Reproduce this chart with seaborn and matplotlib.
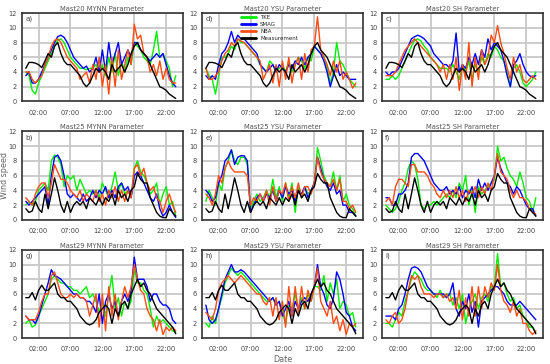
import numpy as np
import pandas as pd
import matplotlib
matplotlib.use("Agg")
import matplotlib.pyplot as plt
import seaborn as sns

# half-hourly time axis (hours of the day)
hours = [h * 0.5 for h in range(48)]
tick_hours = [2, 7, 12, 17, 22]
tick_labels = ["02:00", "07:00", "12:00", "17:00", "22:00"]
series_names = ["TKE", "SMAG", "NBA", "Measurement"]

# Measurements (shared within each mast row)
meas_m20 = [4.5, 5.3, 5.3, 5.2, 5.0, 4.6, 5.5, 6.5, 6.0, 7.5, 8.0, 6.5, 5.5, 5.0, 5.0, 4.5,
            4.0, 3.5, 2.5, 2.0, 2.5, 3.5, 4.5, 4.0, 4.5, 4.0, 3.0, 5.0, 4.0, 4.5, 5.0, 4.0,
            5.0, 6.5, 7.5, 8.0, 7.0, 6.5, 6.0, 5.0, 4.0, 3.0, 2.0, 1.8, 1.5, 1.0, 0.7, 0.4]
meas_m25 = [1.5, 1.0, 1.2, 2.5, 1.5, 1.0, 3.5, 1.5, 3.5, 5.7, 4.0, 2.0, 1.0, 2.5, 1.0, 2.0,
            2.5, 2.0, 2.5, 1.5, 3.0, 2.5, 2.0, 3.0, 2.0, 3.0, 2.5, 3.5, 2.0, 4.0, 3.0, 3.5,
            2.5, 4.0, 4.5, 6.3, 5.5, 5.0, 5.0, 3.0, 2.0, 1.0, 0.5, 0.3, 0.3, 1.5, 1.0, 0.5]
meas_m29 = [5.5, 5.5, 6.2, 5.2, 6.5, 7.2, 6.5, 6.5, 7.0, 7.5, 6.0, 5.5, 5.5, 5.0, 5.0, 4.5,
            4.0, 3.0, 2.5, 2.0, 1.8, 2.0, 2.5, 3.5, 4.0, 4.5, 4.0, 2.0, 4.0, 3.0, 4.5, 5.0,
            4.0, 6.0, 7.0, 8.0, 7.0, 7.5, 6.5, 6.0, 5.0, 4.0, 3.5, 3.0, 2.5, 2.0, 1.5, 0.6]

# Mast20 MYNN (a)
a_tke = [4.0, 3.5, 1.5, 1.0, 2.5, 3.5, 4.5, 5.5, 6.5, 7.5, 8.3, 8.5, 8.0, 7.0, 6.0, 5.5,
         5.0, 4.5, 4.5, 4.3, 4.5, 4.5, 5.0, 4.0, 5.0, 3.5, 6.0, 4.0, 6.5, 3.5, 5.5, 4.0,
         6.0, 5.0, 8.0, 7.5, 7.0, 6.0, 5.5, 5.0, 7.0, 9.5, 6.0, 6.5, 5.5, 4.5, 2.0, 3.5]
a_smag = [3.5, 4.0, 2.5, 2.5, 3.0, 4.0, 5.0, 6.0, 7.0, 8.0, 8.8, 9.0, 8.7, 8.0, 7.0, 6.0,
          5.5, 5.0, 4.5, 4.8, 4.0, 4.5, 6.0, 4.0, 7.0, 4.0, 8.0, 5.0, 6.5, 8.0, 5.0, 6.0,
          7.0, 6.0, 8.0, 8.0, 7.0, 6.5, 6.0, 5.5, 6.0, 6.5, 6.0, 6.5, 5.0, 3.5, 2.5, 2.0]
a_nba = [4.0, 4.0, 3.0, 2.5, 3.0, 3.5, 5.0, 6.0, 7.5, 8.3, 8.5, 8.0, 7.0, 6.0, 5.5, 5.0,
         4.5, 3.0, 3.5, 4.0, 2.5, 5.0, 3.0, 6.0, 2.0, 5.0, 1.0, 6.0, 2.0, 7.0, 3.0, 5.0,
         7.0, 5.0, 10.5, 8.5, 9.0, 6.5, 6.0, 4.0, 5.0, 3.5, 5.5, 3.0, 4.5, 3.0, 2.5, 2.5]

# Mast20 YSU (d)
d_tke = [4.5, 3.5, 3.0, 1.0, 3.5, 6.0, 6.0, 6.5, 7.5, 7.0, 8.5, 8.0, 8.0, 7.5, 7.0, 6.5,
         6.0, 5.0, 4.5, 4.0, 5.5, 5.0, 4.0, 4.5, 5.0, 4.0, 5.5, 4.0, 5.0, 6.0, 5.5, 4.5,
         6.0, 5.5, 7.5, 7.0, 6.5, 6.0, 4.5, 2.5, 4.0, 8.0, 5.5, 5.0, 4.0, 3.0, 2.5, 2.0]
d_smag = [3.5, 3.0, 3.5, 3.0, 5.0, 6.5, 7.0, 8.0, 9.5, 8.0, 9.0, 8.5, 8.5, 8.0, 7.5, 7.0,
          6.5, 5.0, 4.5, 4.0, 4.5, 5.0, 4.0, 5.0, 4.5, 4.0, 5.0, 4.5, 5.5, 5.0, 6.0, 5.0,
          6.0, 6.5, 7.5, 7.0, 6.5, 5.5, 4.0, 2.0, 3.5, 5.0, 3.5, 4.0, 3.5, 3.0, 3.0, 3.0]
d_nba = [4.5, 3.0, 3.0, 3.5, 4.0, 5.5, 6.5, 7.0, 8.0, 7.5, 8.5, 8.2, 8.0, 7.5, 7.0, 6.5,
         6.0, 5.5, 3.0, 4.0, 5.0, 2.5, 5.0, 2.0, 5.5, 3.0, 6.0, 2.5, 5.0, 6.0, 3.0, 6.5,
         4.0, 7.0, 7.5, 11.5, 7.0, 6.0, 5.0, 3.5, 5.5, 4.0, 5.5, 3.0, 4.0, 3.0, 1.8, 2.5]

# Mast20 SH (c)
c_tke = [3.0, 3.0, 3.5, 3.0, 3.5, 4.5, 5.5, 6.5, 7.5, 8.3, 8.5, 8.2, 7.5, 7.0, 6.0, 5.5,
         5.0, 4.5, 4.5, 4.5, 4.0, 5.0, 4.0, 3.0, 5.0, 4.0, 5.5, 3.0, 5.0, 4.0, 6.0, 5.0,
         6.5, 6.0, 7.5, 7.0, 6.0, 5.5, 4.0, 2.0, 4.5, 5.0, 4.0, 2.5, 2.0, 2.5, 3.0, 4.0]
c_smag = [4.0, 3.5, 4.0, 4.0, 4.5, 5.5, 6.5, 7.5, 8.5, 8.8, 9.0, 8.8, 8.5, 8.0, 7.5, 6.5,
          6.0, 5.5, 5.0, 5.0, 4.5, 5.5, 9.3, 4.0, 5.0, 4.5, 6.0, 5.0, 6.5, 5.0, 7.0, 6.0,
          8.5, 7.0, 8.0, 7.5, 7.0, 5.5, 3.5, 2.0, 5.0, 5.5, 6.5, 5.0, 4.0, 3.5, 3.3, 3.5]
c_nba = [3.5, 3.5, 3.5, 4.0, 5.0, 6.0, 7.0, 7.5, 8.0, 8.5, 8.0, 7.5, 7.0, 6.5, 6.0, 5.5,
         5.0, 4.0, 5.0, 3.0, 5.0, 3.0, 6.0, 1.5, 5.0, 3.0, 8.0, 2.0, 6.0, 3.0, 7.0, 5.0,
         6.0, 9.0, 8.0, 10.3, 8.0, 6.5, 4.5, 3.0, 6.0, 4.0, 5.0, 3.0, 2.5, 3.0, 3.5, 3.0]

# Mast25 MYNN (b)
b_tke = [2.0, 2.5, 2.0, 2.5, 4.0, 4.5, 5.0, 4.0, 8.0, 8.8, 8.5, 7.5, 4.5, 6.0, 5.5, 6.0,
         4.0, 5.5, 4.5, 3.5, 4.0, 3.5, 4.0, 3.0, 5.0, 4.0, 3.0, 4.5, 6.5, 4.0, 5.0, 3.5,
         4.0, 3.0, 7.0, 8.0, 6.5, 6.0, 5.0, 3.5, 4.0, 5.0, 2.0, 3.5, 4.5, 2.0, 2.5, 0.5]
b_smag = [2.5, 2.0, 2.5, 3.0, 3.5, 4.0, 4.5, 2.0, 6.0, 8.5, 8.8, 8.0, 6.0, 3.5, 3.0, 3.5,
          3.0, 2.5, 3.5, 2.5, 3.0, 4.0, 3.0, 4.0, 3.5, 4.5, 3.0, 4.0, 3.0, 4.5, 5.0, 4.0,
          4.5, 3.0, 6.0, 6.5, 6.0, 5.0, 4.0, 3.0, 2.5, 3.5, 1.5, 0.5, 1.0, 2.0, 1.0, 0.3]
b_nba = [3.0, 2.5, 2.0, 3.5, 4.5, 5.0, 5.0, 3.0, 5.0, 7.5, 6.5, 5.5, 5.5, 5.0, 4.0, 3.5,
         3.0, 4.0, 2.5, 3.5, 3.0, 2.5, 4.0, 2.5, 3.5, 2.0, 4.0, 3.0, 4.5, 2.5, 4.0, 2.5,
         4.0, 3.0, 7.0, 7.5, 6.0, 7.0, 5.0, 4.0, 4.5, 3.0, 2.5, 1.0, 2.5, 3.5, 2.0, 1.0]

# Mast25 YSU (e)
e_tke = [2.5, 4.0, 3.0, 2.0, 5.0, 4.0, 7.0, 8.0, 9.5, 8.0, 7.5, 8.5, 8.5, 7.5, 1.5, 2.5,
         3.5, 2.5, 3.0, 4.0, 3.0, 5.5, 3.0, 4.5, 2.5, 5.0, 3.0, 5.0, 1.0, 4.5, 3.0, 4.5,
         3.5, 4.0, 5.0, 9.8, 8.0, 6.0, 5.0, 4.5, 6.5, 4.0, 6.0, 2.5, 3.5, 2.0, 1.5, 0.5]
e_smag = [4.0, 3.5, 2.5, 3.0, 5.0, 6.0, 8.0, 8.5, 9.5, 7.5, 8.5, 8.7, 8.7, 8.0, 1.0, 2.0,
          3.0, 3.5, 2.5, 3.5, 3.0, 4.0, 2.5, 4.0, 3.0, 4.5, 3.5, 4.0, 2.5, 4.0, 3.5, 4.5,
          3.0, 4.0, 5.0, 8.5, 7.0, 5.5, 4.5, 4.0, 5.0, 3.5, 4.0, 2.0, 2.0, 1.0, 1.0, 0.5]
e_nba = [3.5, 3.0, 2.0, 3.5, 6.0, 5.0, 7.0, 8.0, 7.0, 6.5, 6.5, 6.5, 6.5, 6.0, 2.0, 3.0,
         2.5, 3.5, 2.5, 4.0, 2.0, 4.5, 2.5, 4.0, 3.5, 5.0, 2.5, 4.5, 3.0, 5.0, 3.0, 4.5,
         4.5, 3.5, 5.0, 8.5, 6.5, 5.5, 5.0, 4.5, 5.5, 4.0, 5.5, 2.5, 2.5, 1.5, 2.0, 1.0]

# Mast25 SH (f)
f_tke = [2.0, 1.5, 1.0, 1.5, 2.5, 4.0, 5.0, 7.0, 8.0, 7.5, 5.5, 2.0, 1.5, 2.0, 2.0, 2.5,
         2.0, 2.5, 3.0, 3.5, 3.0, 4.0, 3.0, 5.0, 4.0, 6.0, 2.0, 4.0, 1.0, 4.5, 3.5, 4.0,
         4.5, 5.0, 5.5, 10.0, 8.0, 8.5, 7.0, 6.0, 5.5, 4.5, 6.5, 5.0, 3.0, 2.5, 1.0, 3.0]
f_smag = [3.0, 3.0, 2.0, 2.0, 3.5, 3.5, 4.0, 5.0, 8.5, 9.0, 9.0, 8.5, 8.0, 7.0, 6.0, 5.0,
          4.5, 4.0, 4.0, 4.5, 3.5, 4.0, 3.5, 4.5, 3.0, 4.0, 3.5, 4.5, 3.0, 5.5, 4.0, 5.0,
          4.0, 5.0, 6.0, 8.5, 7.0, 6.0, 5.0, 4.5, 3.5, 4.5, 4.0, 3.0, 2.0, 1.5, 1.5, 0.5]
f_nba = [2.5, 3.0, 2.0, 4.5, 5.5, 5.5, 5.0, 4.5, 7.5, 7.5, 6.5, 6.5, 6.5, 6.0, 5.0, 4.5,
         3.5, 3.0, 4.0, 3.0, 4.0, 3.0, 4.5, 3.0, 4.0, 2.5, 4.0, 3.5, 4.5, 3.0, 4.5, 3.5,
         5.0, 4.0, 6.0, 9.0, 6.5, 6.0, 5.5, 4.0, 3.0, 4.0, 3.0, 3.0, 2.5, 1.5, 1.0, 0.8]

# Mast29 MYNN (g)
g_tke = [2.0, 2.5, 1.5, 1.8, 3.0, 4.0, 5.0, 6.0, 8.0, 8.5, 8.0, 7.5, 7.5, 7.0, 7.0, 6.5,
         6.5, 6.0, 6.5, 7.0, 5.5, 6.0, 5.0, 3.5, 5.0, 3.0, 6.0, 8.5, 4.0, 5.5, 3.0, 5.0,
         4.0, 5.0, 9.5, 7.5, 7.5, 6.5, 6.0, 4.0, 1.5, 3.0, 2.0, 2.5, 2.0, 1.5, 1.0, 0.8]
g_smag = [3.0, 2.5, 2.5, 2.0, 3.0, 4.5, 6.0, 7.5, 9.3, 8.5, 8.3, 8.0, 7.5, 7.0, 6.5, 6.0,
          6.0, 5.5, 5.5, 5.0, 5.0, 4.5, 3.5, 6.0, 2.0, 5.0, 6.0, 4.0, 5.0, 3.0, 5.0, 6.0,
          5.0, 6.5, 11.0, 8.0, 8.0, 8.0, 7.0, 5.0, 6.0, 6.0, 5.0, 4.5, 4.5, 4.0, 2.5, 2.0]
g_nba = [3.0, 2.5, 2.5, 2.5, 3.5, 5.0, 6.0, 6.0, 8.5, 9.0, 7.5, 6.0, 5.5, 5.5, 6.0, 5.5,
         6.0, 5.5, 5.5, 5.0, 3.0, 4.5, 6.0, 1.5, 6.0, 1.0, 7.0, 3.0, 6.0, 2.5, 5.0, 7.0,
         5.5, 7.0, 10.0, 8.0, 6.5, 6.0, 4.0, 3.0, 2.5, 1.0, 2.5, 0.5, 1.5, 1.0, 1.5, 1.0]

# Mast29 YSU (h)
h_tke = [2.0, 1.5, 3.0, 2.0, 4.0, 5.5, 7.5, 8.5, 9.5, 9.0, 8.5, 9.0, 8.5, 8.0, 7.5, 7.0,
         6.5, 6.0, 5.5, 5.0, 5.0, 5.5, 4.5, 5.0, 3.5, 2.0, 4.5, 4.0, 6.0, 4.0, 5.5, 4.0,
         6.0, 5.0, 7.0, 7.0, 6.5, 8.5, 5.0, 7.5, 6.0, 8.0, 4.0, 5.0, 4.5, 3.0, 3.5, 1.5]
h_smag = [4.5, 2.5, 2.0, 2.5, 4.0, 6.0, 8.0, 9.0, 10.0, 9.0, 9.0, 9.3, 9.0, 8.5, 8.0, 7.5,
          7.0, 6.5, 6.0, 5.5, 5.0, 5.5, 4.5, 5.0, 3.0, 4.0, 5.0, 3.0, 5.0, 4.0, 5.0, 5.5,
          5.0, 6.0, 7.0, 10.0, 7.0, 6.0, 4.5, 4.0, 5.5, 9.0, 8.0, 6.0, 3.5, 3.0, 1.5, 1.0]
h_nba = [3.5, 3.0, 2.5, 4.0, 6.5, 7.5, 8.0, 8.5, 8.0, 7.5, 8.0, 8.5, 8.0, 7.5, 7.0, 6.5,
         6.0, 6.0, 5.0, 4.5, 5.5, 3.0, 5.5, 2.5, 5.0, 1.5, 7.0, 3.0, 7.0, 3.5, 7.0, 4.0,
         6.5, 5.0, 7.0, 9.5, 5.0, 4.0, 3.0, 5.0, 2.0, 3.0, 1.0, 2.5, 0.5, 2.0, 1.5, 2.0]

# Mast29 SH (i)
i_tke = [2.0, 2.0, 1.5, 2.5, 3.5, 3.0, 5.0, 6.5, 8.0, 9.0, 8.5, 8.0, 7.0, 6.5, 6.5, 6.0,
         5.5, 6.5, 5.5, 6.0, 6.0, 4.5, 5.5, 4.0, 6.0, 2.0, 4.0, 5.0, 6.0, 4.0, 5.5, 6.0,
         5.0, 7.0, 7.0, 11.5, 7.0, 7.5, 6.0, 5.0, 5.5, 4.0, 4.5, 3.0, 2.5, 1.5, 1.5, 0.8]
i_smag = [3.0, 3.0, 3.0, 2.5, 4.0, 4.5, 6.0, 8.0, 9.5, 9.7, 9.5, 9.0, 8.0, 7.0, 6.5, 6.0,
          6.0, 6.0, 6.0, 5.5, 6.0, 7.5, 4.0, 3.0, 5.0, 4.0, 6.0, 3.5, 5.0, 1.5, 5.0, 5.5,
          6.0, 6.5, 7.0, 7.0, 6.5, 6.0, 5.0, 4.5, 4.5, 4.5, 5.0, 4.5, 4.0, 3.5, 3.0, 2.5]
i_nba = [2.5, 2.0, 3.0, 3.5, 2.0, 2.5, 4.0, 6.5, 8.5, 8.0, 8.5, 7.0, 6.0, 6.0, 6.0, 5.5,
         6.0, 6.0, 5.5, 6.0, 5.0, 5.5, 4.0, 6.5, 2.5, 5.5, 3.0, 7.0, 3.0, 7.0, 4.0, 7.0,
         5.5, 7.5, 6.5, 10.0, 6.5, 5.0, 4.5, 3.5, 5.0, 3.0, 4.0, 2.0, 2.0, 1.0, 0.5, 1.0]

panels = [
    [("a)", "Mast20 MYNN Parameter", a_tke, a_smag, a_nba, meas_m20),
     ("d)", "Mast20 YSU Parameter", d_tke, d_smag, d_nba, meas_m20),
     ("c)", "Mast20 SH Parameter", c_tke, c_smag, c_nba, meas_m20)],
    [("b)", "Mast25 MYNN Parameter", b_tke, b_smag, b_nba, meas_m25),
     ("e)", "Mast25 YSU Parameter", e_tke, e_smag, e_nba, meas_m25),
     ("f)", "Mast25 SH Parameter", f_tke, f_smag, f_nba, meas_m25)],
    [("g)", "Mast29 MYNN Parameter", g_tke, g_smag, g_nba, meas_m29),
     ("h)", "Mast29 YSU Parameter", h_tke, h_smag, h_nba, meas_m29),
     ("i)", "Mast29 SH Parameter", i_tke, i_smag, i_nba, meas_m29)],
]

palette = {"TKE": "#00ee00", "SMAG": "#0000ff", "NBA": "#ff4a10", "Measurement": "#000000"}

sns.set_style("white")
plt.rcParams["font.family"] = ["DejaVu Sans"]

fig, axes = plt.subplots(3, 3, figsize=(5.5, 3.64), dpi=100)
fig.subplots_adjust(left=0.04, right=0.987, top=0.964, bottom=0.071, wspace=0.12, hspace=0.34)

txt_col = "#444444"
for r in range(3):
    for c in range(3):
        ax = axes[r, c]
        lab, title, tke, smag, nba, meas = panels[r][c]
        df = pd.DataFrame({
            "hour": hours * 4,
            "speed": list(tke) + list(smag) + list(nba) + list(meas),
            "series": sum([[n] * len(hours) for n in series_names], []),
        })
        sns.lineplot(data=df, x="hour", y="speed", hue="series", hue_order=series_names,
                     palette=palette, linewidth=1.0, ax=ax, legend=(r == 0 and c == 1),
                     estimator=None)
        ax.set_xlim(-0.6, 24.6)
        ax.set_ylim(0, 12)
        ax.set_xticks(tick_hours)
        ax.set_xticklabels(tick_labels)
        ax.set_yticks(range(0, 13, 2))
        ax.grid(True, color="#c8c8c8", linewidth=1.3)
        ax.set_axisbelow(True)
        for sp in ax.spines.values():
            sp.set_color("#333333")
            sp.set_linewidth(1.2)
        ax.tick_params(axis="both", labelsize=4.8, colors=txt_col, length=2, width=0.6,
                       pad=1.5, direction="out")
        ax.tick_params(axis="x", pad=4)
        ax.set_title(title, fontsize=4.9, color="#555555", pad=1.5)
        ax.text(0.02, 0.97, lab, transform=ax.transAxes, ha="left", va="top",
                fontsize=5.2, color="#444444")
        ax.set_xlabel("")
        ax.set_ylabel("")
        if r == 0 and c == 1:
            leg = ax.legend(loc="upper center", bbox_to_anchor=(0.42, 1.02), frameon=False,
                            fontsize=4.0, handlelength=2.6, labelspacing=0.4,
                            borderaxespad=0.2)
            for line in leg.get_lines():
                line.set_linewidth(2.0)

axes[1, 0].set_ylabel("Wind speed", fontsize=5.8, color="#666666")
axes[1, 0].yaxis.set_label_coords(-0.078, 0.5)
axes[2, 1].set_xlabel("Date", fontsize=5.8, color="#666666", labelpad=2)

fig.savefig("out.png", dpi=100)
